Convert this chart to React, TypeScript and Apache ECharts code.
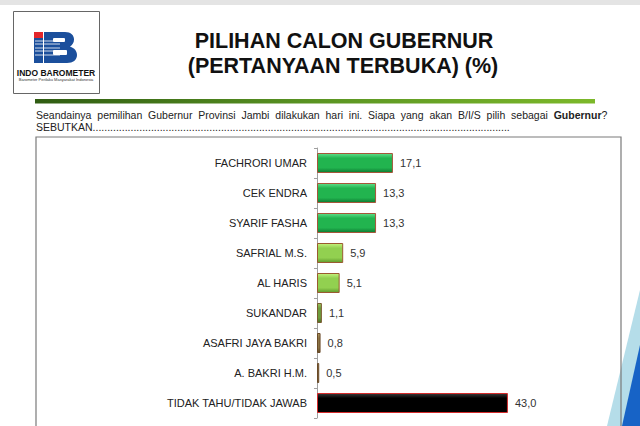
import React, { useEffect, useRef } from "react";
import * as echarts from "echarts";

const categories = [
  "FACHRORI UMAR",
  "CEK ENDRA",
  "SYARIF FASHA",
  "SAFRIAL M.S.",
  "AL HARIS",
  "SUKANDAR",
  "ASAFRI JAYA BAKRI",
  "A. BAKRI H.M.",
  "TIDAK TAHU/TIDAK JAWAB",
];
const values = [17.1, 13.3, 13.3, 5.9, 5.1, 1.1, 0.8, 0.5, 43.0];

// colour stops per bar (top, mid, bottom) and border
const barPalette = [
  ["#5ee08a", "#22b44f", "#0d7a32", "#a5563a"],
  ["#5ee08a", "#22b44f", "#0d7a32", "#a5563a"],
  ["#5ee08a", "#22b44f", "#0d7a32", "#a5563a"],
  ["#c4f27c", "#92d050", "#5f9a2c", "#9a5a30"],
  ["#c4f27c", "#92d050", "#5f9a2c", "#9a5a30"],
  ["#9cc860", "#6e9c3c", "#4a6f24", "#7a5a30"],
  ["#b09a60", "#8a7444", "#5e4a26", "#6a4a28"],
  ["#b09a60", "#8a7444", "#5e4a26", "#6a4a28"],
  ["#3a3a3a", "#000000", "#000000", "#d42a2a"],
];

const B_PATH =
  "M0 0 H21 C27 0 30 3.5 30 7.5 C30 10.5 28.5 13 26 14.5 C30.5 16 33 19 33 23 C33 28 29 31 23 31 H0 Z";
echarts.graphic.registerShape("logoB", echarts.graphic.extendPath(B_PATH, {}));

const SANS = "'Liberation Sans', Arial, sans-serif";

const QUESTION_WORDS = [
  "Seandainya", "pemilihan", "Gubernur", "Provinsi", "Jambi", "dilakukan", "hari", "ini.",
  "Siapa", "yang", "akan", "B/I/S", "pilih", "sebagai", "{b|Gubernur}?",
];

export default function App() {
  const ref = useRef<HTMLDivElement>(null);
  useEffect(() => {
    if (!ref.current) return;
    const chart = echarts.init(ref.current, null, { renderer: "svg" });
    const stripes = [41, 44, 48, 51, 55].map((y) => ({
      type: "line",
      shape: { x1: 35, y1: y, x2: 60, y2: y },
      style: { stroke: "#ffffff", lineWidth: 0.8 },
      z: 12,
    }));
    chart.setOption({
      animation: false,
      backgroundColor: "#ffffff",
      grid: { left: 317, top: 148, width: 266.4, height: 270, containLabel: false },
      xAxis: { type: "value", min: 0, max: 60, show: false },
      yAxis: {
        type: "category",
        inverse: true,
        data: categories,
        axisLine: { show: true, lineStyle: { color: "#a0a0a0", width: 1 } },
        axisTick: { show: true, length: 3, lineStyle: { color: "#a0a0a0" } },
        axisLabel: {
          margin: 10,
          fontSize: 11,
          fontFamily: SANS,
          color: "#222222",
        },
      },
      series: [
        {
          type: "bar",
          barWidth: 20,
          data: values.map((v, i) => ({
            value: v,
            itemStyle: {
              color: {
                type: "linear",
                x: 0,
                y: 0,
                x2: 0,
                y2: 1,
                colorStops: [
                  { offset: 0, color: barPalette[i][0] },
                  { offset: 0.25, color: barPalette[i][1] },
                  { offset: 0.75, color: barPalette[i][1] },
                  { offset: 1, color: barPalette[i][2] },
                ],
              },
              borderColor: barPalette[i][3],
              borderWidth: 1,
            },
          })),
          label: {
            show: true,
            position: "right",
            distance: 7,
            fontSize: 11,
            fontFamily: SANS,
            color: "#333333",
            formatter: (p: any) => Number(p.value).toFixed(1).replace(".", ","),
          },
        },
      ],
      graphic: [
        { type: "rect", shape: { x: 0, y: 0, width: 640, height: 5 }, style: { fill: "#e4e4e4" }, z: 1 },
        // logo box
        {
          type: "rect",
          shape: { x: 13.5, y: 11.5, width: 86, height: 82 },
          style: { fill: "#ffffff", stroke: "#666666", lineWidth: 1 },
          z: 10,
        },
        { type: "rect", shape: { x: 34, y: 32, width: 9, height: 6 }, style: { fill: "#e3262b" }, z: 11 },
        { type: "rect", shape: { x: 34, y: 38, width: 9, height: 25 }, style: { fill: "#1b4f9c" }, z: 11 },
        { type: "logoB", x: 44, y: 32, style: { fill: "#1b4f9c" }, z: 11 },
        { type: "rect", shape: { x: 53, y: 38, width: 12, height: 4, r: 1 }, style: { fill: "#ffffff" }, z: 12 },
        { type: "rect", shape: { x: 53, y: 50, width: 14, height: 5, r: 1 }, style: { fill: "#ffffff" }, z: 12 },
        ...stripes,
        {
          type: "text",
          x: 56,
          y: 73,
          style: {
            text: "INDO BAROMETER",
            fill: "#111111",
            font: `bold 8.5px ${SANS}`,
            align: "center",
            verticalAlign: "middle",
          },
          z: 12,
        },
        {
          type: "text",
          x: 56,
          y: 79.5,
          style: {
            text: "Barometer Perilaku Masyarakat Indonesia",
            fill: "#333333",
            font: `4px ${SANS}`,
            align: "center",
            verticalAlign: "middle",
          },
          z: 12,
        },
        // title
        {
          type: "text",
          x: 344,
          y: 41,
          style: {
            text: "PILIHAN CALON GUBERNUR",
            fill: "#111111",
            font: `bold 21.5px ${SANS}`,
            align: "center",
            verticalAlign: "middle",
          },
          z: 10,
        },
        {
          type: "text",
          x: 343,
          y: 66,
          style: {
            text: "(PERTANYAAN TERBUKA) (%)",
            fill: "#111111",
            font: `bold 21.5px ${SANS}`,
            align: "center",
            verticalAlign: "middle",
          },
          z: 10,
        },
        // green rule
        {
          type: "rect",
          shape: { x: 35, y: 99, width: 560, height: 4.5 },
          style: {
            fill: {
              type: "linear",
              x: 0,
              y: 0,
              x2: 1,
              y2: 0,
              colorStops: [
                { offset: 0, color: "#2f5c12" },
                { offset: 0.5, color: "#5a9422" },
                { offset: 1, color: "#7cb82a" },
              ],
            },
          },
          z: 10,
        },
        // question text
        {
          type: "text",
          x: 36,
          y: 115,
          style: {
            text: QUESTION_WORDS.join("  "),
            fill: "#222222",
            font: `10.5px ${SANS}`,
            align: "left",
            verticalAlign: "middle",
            rich: {
              b: { fontWeight: "bold", fontSize: 10.5, fontFamily: SANS, fill: "#222222" },
            },
          },
          z: 10,
        },
        {
          type: "text",
          x: 36,
          y: 126.5,
          style: {
            text: "SEBUTKAN" + ".".repeat(143),
            fill: "#222222",
            font: `10.5px ${SANS}`,
            align: "left",
            verticalAlign: "middle",
          },
          z: 10,
        },
        // chart box
        {
          type: "rect",
          shape: { x: 36, y: 137, width: 585, height: 300 },
          style: { fill: "none", stroke: "#7a7a7a", lineWidth: 1.2 },
          z: 5,
        },
        {
          type: "polygon",
          shape: { points: [[640, 290], [640, 426], [607, 426]] },
          style: { fill: "#b5dde9" },
          z: 4,
        },
        {
          type: "polygon",
          shape: { points: [[640, 345], [640, 426], [622, 426]] },
          style: { fill: "#1763c6" },
          z: 6,
        },
      ],
    });
    return () => chart.dispose();
  }, []);
  return (
    <div
      ref={ref}
      style={{ position: "fixed", left: 0, top: 0, width: 640, height: 426, background: "#fff" }}
    />
  );
}
